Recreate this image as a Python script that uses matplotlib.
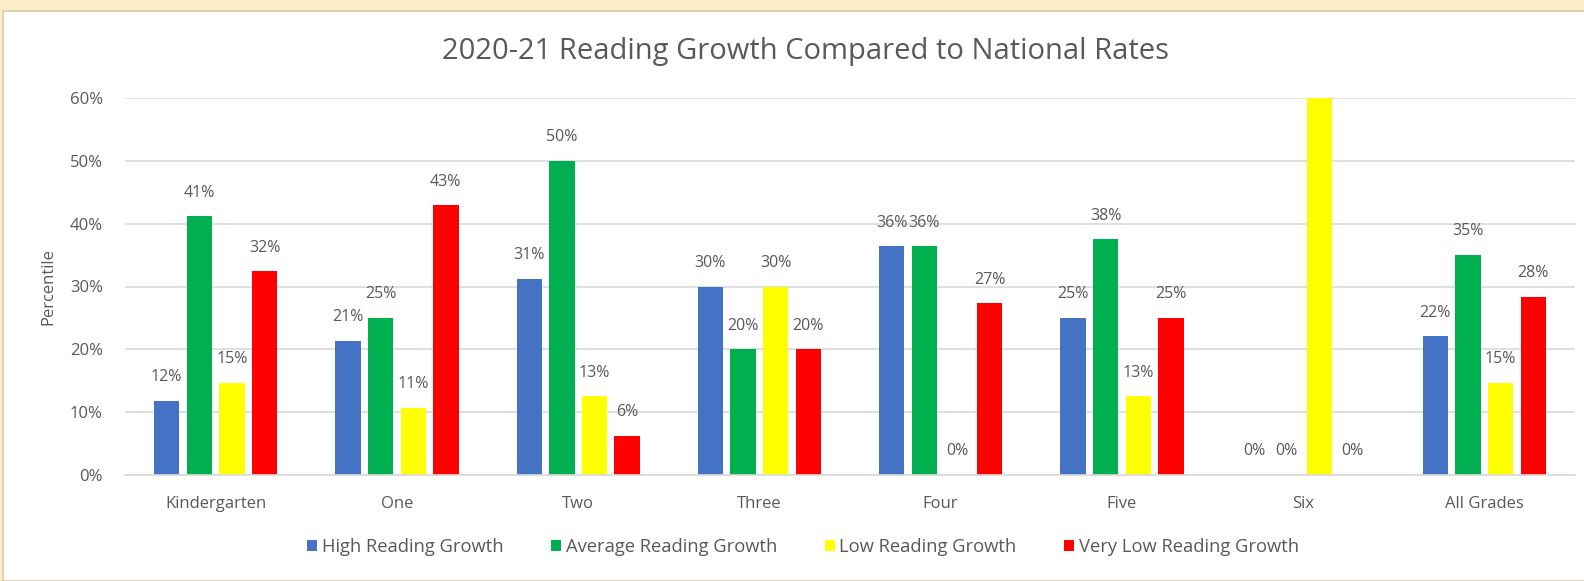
import numpy as np
import matplotlib
matplotlib.use('Agg')
import matplotlib.pyplot as plt
from matplotlib.patches import Rectangle

plt.rcParams['font.family'] = ['Open Sans', 'DejaVu Sans']

grades = ['Kindergarten', 'One', 'Two', 'Three', 'Four', 'Five', 'Six', 'All Grades']
high = [11.8, 21.4, 31.25, 30, 36.4, 25, 0, 22.1]
average = [41.2, 25, 50, 20, 36.4, 37.5, 0, 35]
low = [14.7, 10.7, 12.5, 30, 0, 12.5, 100, 14.7]
very_low = [32.4, 42.9, 6.25, 20, 27.3, 25, 0, 28.4]

series_names = ['High Reading Growth', 'Average Reading Growth', 'Low Reading Growth', 'Very Low Reading Growth']
series_vals = [high, average, low, very_low]
colors = ['#4472C4', '#00B050', '#FFFF00', '#FF0000']
txt = '#595959'

fig = plt.figure(figsize=(15.84, 5.81), dpi=100)
fig.patch.set_facecolor('#FCEFC8')
fig.patches.append(Rectangle((3 / 1584, 0), 1, 1 - 11 / 581, transform=fig.transFigure,
                             facecolor='white', edgecolor='#D8CBA8', lw=1.2, zorder=-10))

ax = fig.add_axes([125 / 1584, 1 - 475 / 581, 1450 / 1584, 377 / 581])
ax.set_facecolor('none')
ax.set_zorder(2)

x = np.arange(len(grades))
step = 0.18
width = 0.14
for i, (name, vals, c) in enumerate(zip(series_names, series_vals, colors)):
    pos = x + (i - 1.5) * step
    ax.bar(pos, vals, width=width, color=c, label=name, zorder=2)
    for px, v in zip(pos, vals):
        if v <= 60:
            # excel rounds half up
            ax.annotate(f'{int(v + 0.5)}%', (px, v), xytext=(0, 17), textcoords='offset points',
                        ha='center', va='center', fontsize=11.5, color=txt)

ax.set_ylim(0, 60)
ax.set_xlim(-0.5, len(grades) - 0.5)
ax.set_yticks(np.arange(0, 61, 10))
ax.set_yticklabels([f'{t}%' for t in range(0, 61, 10)])
ax.yaxis.grid(True, color='#D9D9D9', lw=1.2, zorder=0)
ax.set_axisbelow(True)
ax.set_xticks(x)
ax.set_xticklabels(grades)
ax.tick_params(length=0, colors=txt, labelsize=12)
ax.tick_params(axis='x', pad=15)
ax.tick_params(axis='y', pad=16)
for s in ['top', 'right', 'left']:
    ax.spines[s].set_visible(False)
ax.spines['bottom'].set_color('#D9D9D9')
ax.spines['bottom'].set_linewidth(1.2)

ax.set_ylabel('Percentile', fontsize=12, color=txt)
ax.yaxis.set_label_coords(-0.047, 0.5)

fig.text(805 / 1584, 1 - 52 / 581, '2020-21 Reading Growth Compared to National Rates',
         ha='center', va='center', fontsize=21, color=txt)

leg = fig.legend(loc='center', bbox_to_anchor=(803 / 1584, 1 - 547 / 581), ncol=4, frameon=False,
                 fontsize=13.2, handlelength=0.55, handleheight=0.55, handletextpad=0.25,
                 columnspacing=2.6)
for t in leg.get_texts():
    t.set_color(txt)

fig.savefig('out.png', dpi=100, facecolor=fig.get_facecolor())
